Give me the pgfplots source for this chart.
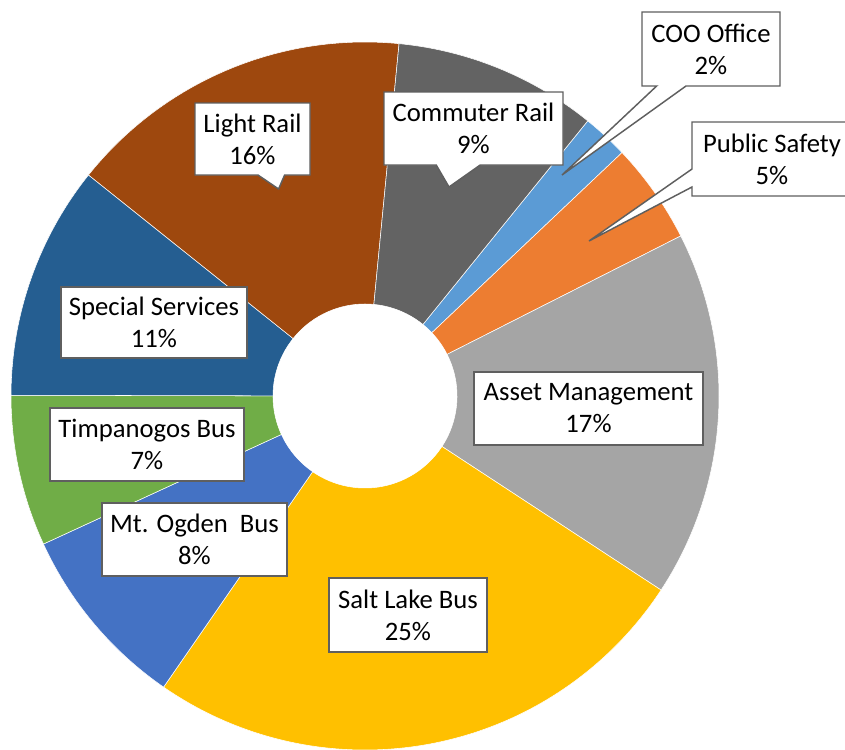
\documentclass[border=0pt]{standalone}
\usepackage{fontspec}
\setmainfont{Carlito}
\usepackage{pgfplots}
\pgfplotsset{compat=1.18}
\usepackage{pgfplotstable}
\usetikzlibrary{shapes.callouts}

\definecolor{s0}{HTML}{5B9BD5}
\definecolor{s1}{HTML}{ED7D31}
\definecolor{s2}{HTML}{A5A5A5}
\definecolor{s3}{HTML}{FFC000}
\definecolor{s4}{HTML}{4472C4}
\definecolor{s5}{HTML}{70AD47}
\definecolor{s6}{HTML}{255E91}
\definecolor{s7}{HTML}{9E480E}
\definecolor{s8}{HTML}{636363}
\definecolor{bord}{HTML}{5F5F5F}

% slice shares in percent, clockwise from the first slice (COO Office)
\pgfplotstableread{
name share
COO 2.1
PublicSafety 4.6
AssetManagement 16.7
SaltLakeBus 25.4
MtOgdenBus 8.5
TimpanogosBus 6.9
SpecialServices 10.7
LightRail 15.8
CommuterRail 9.3
}\slices

\tikzset{lbl/.style={draw=bord, line width=1.1pt, fill=white, align=center,
  font=\fontsize{20}{24}\selectfont, inner sep=0pt}}

\begin{document}
\begin{tikzpicture}
\begin{axis}[scale only axis, width=633.75pt, height=561.75pt,
  xmin=0, xmax=845, ymin=0, ymax=749, y dir=reverse,
  axis line style={draw=none}, ticks=none, clip=false]
\xdef\acc{39}
\pgfplotsforeachungrouped \i in {0,...,8}{%
  \pgfplotstablegetelem{\i}{share}\of\slices
  \pgfmathsetmacro\b{\acc+3.6*\pgfplotsretval}%
  \edef\cmd{\noexpand\addplot[fill=s\i, draw=white, line width=0.4pt, domain=\acc:\b, samples=90] ({365+354*sin(x)},{396-354*cos(x)}) -- (axis cs:365,396) -- cycle;}%
  \cmd
  \xdef\acc{\b}%
}
\addplot[fill=white, draw=white, domain=0:360, samples=120] ({365+92*sin(x)},{396-92*cos(x)});

\node[lbl, rectangle callout, callout absolute pointer={(axis cs:278.6,189)}, callout pointer width=20pt,
  minimum width=86.25pt, minimum height=54pt] at (axis cs:252.5,139) {Light Rail\\16\%};
\node[lbl, rectangle callout, callout absolute pointer={(axis cs:449,187)}, callout pointer width=33pt,
  minimum width=134.25pt, minimum height=54.75pt] at (axis cs:473.5,128.5) {Commuter Rail\\9\%};
\node[lbl, rectangle callout, callout absolute pointer={(axis cs:562,175)}, callout pointer width=22pt,
  minimum width=103.5pt, minimum height=55.5pt] at (axis cs:711,49) {COO Office\\2\%};
\node[lbl, rectangle callout, callout absolute pointer={(axis cs:589,241)}, callout pointer width=13.5pt,
  minimum width=120pt, minimum height=55.5pt] at (axis cs:772,159) {Public Safety\\5\%};
\node[lbl, minimum width=171.75pt, minimum height=54.75pt] at (axis cs:588.5,408.5) {Asset Management\\17\%};
\node[lbl, minimum width=118.5pt, minimum height=55.5pt] at (axis cs:408,615) {Salt Lake Bus\\25\%};
\node[lbl, minimum width=138.75pt, minimum height=54.75pt] at (axis cs:194.5,539.5) {Mt. Ogden\ \ Bus\\8\%};
\node[lbl, minimum width=145.5pt, minimum height=54.75pt] at (axis cs:147,444.5) {Timpanogos Bus\\7\%};
\node[lbl, minimum width=139.5pt, minimum height=53.25pt] at (axis cs:154,322.5) {Special Services\\11\%};
\end{axis}
\pgfresetboundingbox
\useasboundingbox (current axis.south west) rectangle (current axis.north east);
\end{tikzpicture}
\end{document}
